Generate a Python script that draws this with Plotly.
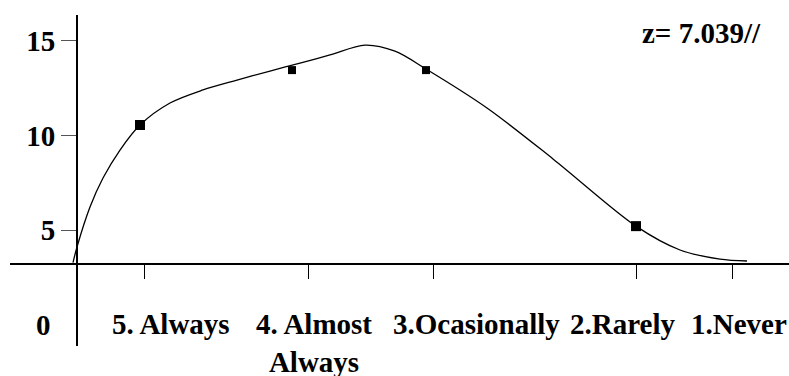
import plotly.graph_objects as go

# ---- data ----
categories = ["5. Always", "4. Almost<br>Always", "3.Ocasionally", "2.Rarely", "1.Never"]
category_tick_x = [6.7, 23.1, 35.6, 55.9, 65.5]      # tick marks on the horizontal axis
category_label_x = [9.4, 23.7, 39.9, 54.5, 66.2]     # where the category names sit

point_x = [6.3, 21.5, 34.9, 55.9]
point_y = [10.55, 13.45, 13.45, 5.21]

curve_x = [-0.4, 0.0, 1.3, 2.6, 4.3, 6.3, 9.3, 12.6, 16.0, 19.3, 22.3, 25.3, 28.8,
           31.8, 34.9, 41.0, 47.6, 55.9, 60.3, 64.3, 67.0]
curve_y = [3.28, 4.11, 6.22, 7.75, 9.23, 10.55, 11.71, 12.40, 12.92, 13.40, 13.82, 14.25,
           14.77, 14.45, 13.51, 11.45, 8.76, 5.21, 3.95, 3.47, 3.37]

y_tick_vals = [5, 10, 15]
y_tick_text = ["5", "10", "15"]
zero_label = "0"
stat_text = "z= 7.039//"

FONT = "Liberation Serif"
FS = 29

fig = go.Figure()
fig.add_trace(go.Scatter(x=curve_x, y=curve_y, mode="lines",
                         line=dict(color="black", width=1.3, shape="spline", smoothing=0.9),
                         hoverinfo="skip", showlegend=False))
fig.add_trace(go.Scatter(x=point_x, y=point_y, mode="markers",
                         marker=dict(symbol="square", color="#000000", size=[10, 8, 8, 10],
                                     opacity=1, line=dict(width=0)),
                         showlegend=False))

annotations = []
for cx, name in zip(category_label_x, categories):
    annotations.append(dict(x=cx, xref="x", y=1.0, yref="y", yanchor="top", xanchor="center",
                            text="<b>%s</b>" % name, showarrow=False,
                            font=dict(family=FONT, size=FS, color="black")))
annotations.append(dict(x=0.0552, xref="paper", y=0, yref="y", xanchor="right", yanchor="middle",
                        text="<b>%s</b>" % zero_label, showarrow=False,
                        font=dict(family=FONT, size=FS, color="black")))
annotations.append(dict(x=62.4, xref="x", y=15.4, yref="y", xanchor="center", yanchor="middle",
                        text="<b>%s</b>" % stat_text, showarrow=False,
                        font=dict(family=FONT, size=FS, color="black")))

fig.update_layout(
    width=789, height=376, autosize=False,
    margin=dict(l=10, r=0, t=15, b=30),
    paper_bgcolor="white", plot_bgcolor="white",
    showlegend=False,
    font=dict(family=FONT, size=FS, color="black"),
    annotations=annotations,
    xaxis=dict(range=[-6.7, 71.2], domain=[0, 1], anchor="free", position=0.2477,
               showline=True, linecolor="black", linewidth=2,
               tickvals=category_tick_x, ticks="outside", ticklen=14, tickwidth=1,
               tickcolor="black", showticklabels=False, showgrid=False, zeroline=False),
    yaxis=dict(range=[-1.12, 16.36], domain=[0, 1], anchor="free", position=0.086,
               showline=True, linecolor="black", linewidth=2,
               tickvals=y_tick_vals, ticktext=["<b>%s</b>" % t for t in y_tick_text],
               ticks="outside", ticklen=15, tickwidth=1, tickcolor="#555",
               tickfont=dict(family=FONT, size=FS, color="black"),
               showgrid=False, zeroline=False),
)

fig.write_html("out.html", config={"displayModeBar": False},
               post_script="document.body.style.margin='0';document.body.style.overflow='hidden';")
